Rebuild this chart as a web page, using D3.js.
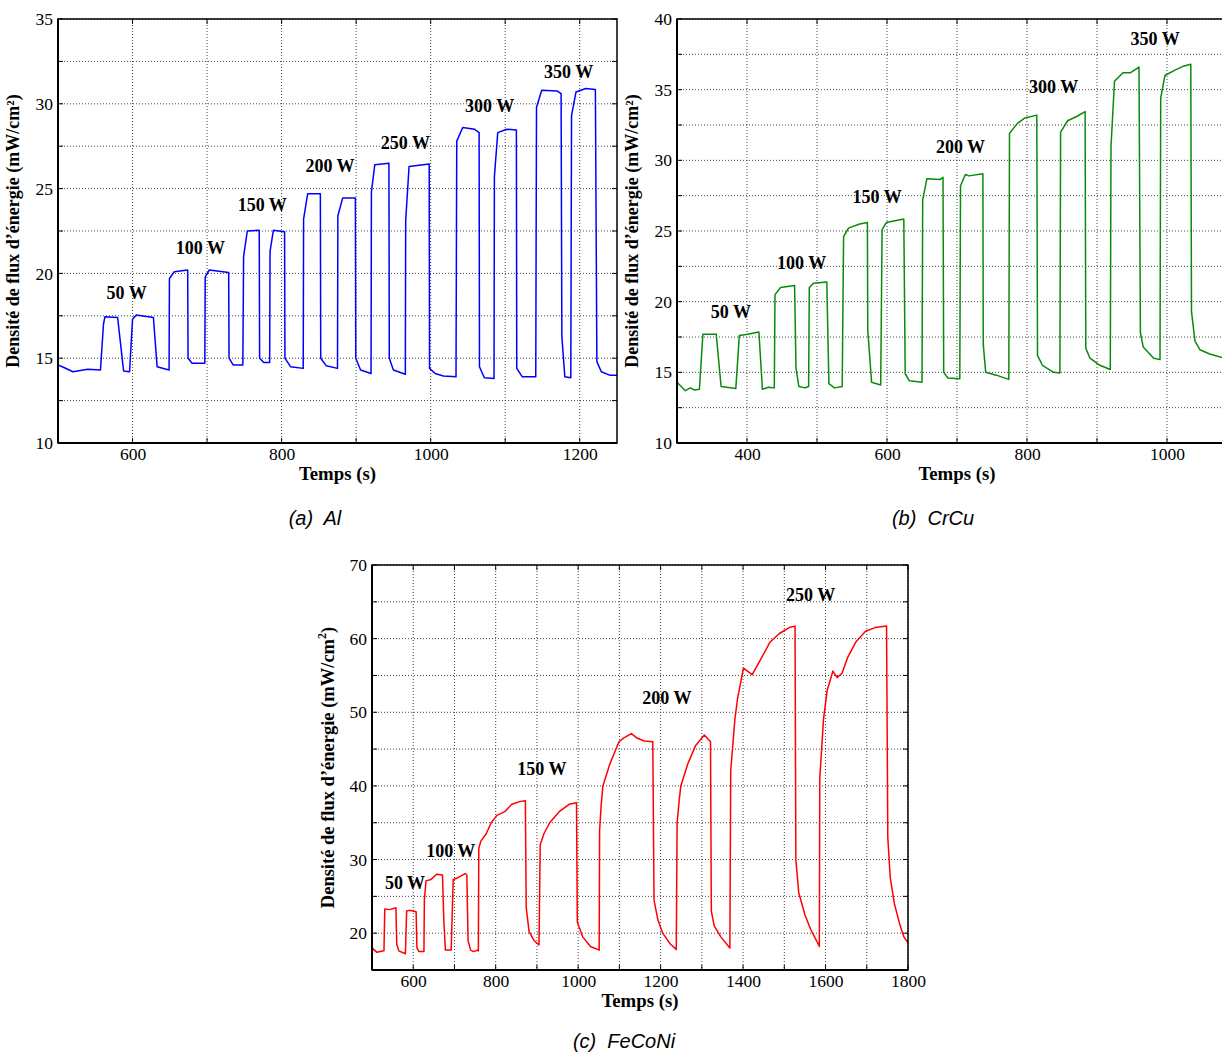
<!DOCTYPE html>
<html><head><meta charset="utf-8">
<script src="https://cdn.jsdelivr.net/npm/d3@7"></script>
<style>body{margin:0;background:#fff}svg{display:block}</style>
</head><body>
<script>
// ---------- DATA ----------
const timeAl = [500,508,520,540,557,561,563,580,588,596,600,605,628,633,649,649.5,656,674,674.5,680,697,697.5,703,729,729.5,735,748,749,754,770,770.5,776,784,784.5,789,804,804.5,812,829,829.5,835,852,852.5,860,875,875.5,882,899,899.5,906,920,920.5,925,944,944.5,950,966,966.5,971,998,998.5,1006,1017,1034,1035,1043,1059,1065,1065.5,1072,1085,1085.5,1090,1102,1115,1115.5,1123,1141,1142,1149,1170,1175,1176,1180,1188,1189,1195,1208,1221,1223,1229,1240,1250];
const fluxAl = [14.6,14.45,14.2,14.35,14.3,17.0,17.45,17.4,14.25,14.2,17.3,17.55,17.4,14.5,14.3,19.7,20.1,20.2,15.0,14.7,14.7,19.8,20.2,20.05,15.0,14.6,14.6,21.0,22.5,22.55,15.0,14.75,14.75,21.3,22.55,22.45,15.0,14.5,14.4,23.2,24.7,24.7,15.0,14.55,14.4,23.4,24.45,24.45,15.0,14.3,14.1,24.8,26.4,26.5,15.0,14.3,14.05,23.1,26.3,26.45,14.4,14.1,13.95,13.9,27.8,28.6,28.5,28.3,14.5,13.85,13.8,25.7,28.3,28.5,28.45,14.4,13.9,13.9,29.8,30.8,30.75,30.6,16.3,13.9,13.85,29.3,30.7,30.9,30.85,14.8,14.2,14.0,14.0];

const timeCrCu = [300,312,319,325,332,337,356,363,384,389,401,417,422,431,439,440,448,468,470,474,483,488,489,495,514,517,525,536,538,545,561,572,572.5,578,591,593,599,624,626,632,650,651,657,676,680,681,687,704,705,712,717,737,737.5,741,756,774,775,786,797,814,815,822,838,847,848,858,871,883,884,890,904,919,920,925,937,948,960,962,966,981,990,991,997,1012,1023,1034,1035,1040,1047,1061,1082,1100];
const fluxCrCu = [14.3,13.7,13.9,13.75,13.8,17.7,17.7,14.0,13.85,17.6,17.7,17.85,13.8,13.95,13.9,20.5,21.0,21.15,15.3,14.0,13.9,14.0,21.0,21.3,21.4,14.2,13.9,14.0,24.6,25.2,25.5,25.6,18.0,14.3,14.1,25.1,25.6,25.85,14.9,14.4,14.3,27.2,28.7,28.65,28.8,15.0,14.6,14.55,28.2,29.0,28.9,29.05,17.0,15.0,14.8,14.5,31.9,32.6,33.0,33.2,16.2,15.5,15.0,14.95,32.0,32.8,33.1,33.45,16.7,16.0,15.5,15.2,31.0,35.6,36.2,36.2,36.6,17.8,16.8,16.0,15.9,34.4,36.0,36.4,36.65,36.8,19.3,17.2,16.6,16.3,16.0,15.9];

const timeFeCoNi = [500,512,520,529,531,543,558,560,565,581,584,591,607,609,614,626,627,631,643,657,671,674,678,692,697,707,726,730,733,739,747,756,758,759,764,777,789,803,822,839,860,872,874,881,893,905,908,917,931,954,978,996,998,1011,1030,1051,1052,1056,1060,1077,1099,1110,1129,1143,1160,1181,1184,1193,1205,1224,1238,1240,1245,1249,1266,1285,1306,1321,1323,1330,1346,1368,1370,1380,1387,1401,1422,1441,1465,1488,1512,1526,1528,1535,1550,1564,1578,1585,1586,1595,1604,1618,1628,1640,1654,1673,1697,1720,1748,1751,1757,1767,1781,1790,1800];
const fluxFeCoNi = [18.0,17.4,17.5,17.6,23.3,23.2,23.45,18.5,17.6,17.2,23.0,23.1,22.9,18.0,17.5,17.5,24.5,27.1,27.3,28.0,27.9,22.0,17.7,17.7,27.3,27.5,28.1,27.9,19.0,17.7,17.5,17.7,17.6,31.5,32.5,33.5,35.0,36.0,36.5,37.5,37.9,38.0,23.5,20.2,19.0,18.4,32.0,33.5,35.0,36.5,37.5,37.7,21.5,19.5,18.2,17.7,34.0,37.5,40.0,43.0,46.0,46.5,47.1,46.5,46.1,46.0,24.5,21.9,20.0,18.5,17.8,35.0,38.0,40.0,43.0,45.5,46.9,46.0,23.0,21.0,19.5,18.0,42.0,49.0,52.0,56.0,55.1,57.0,59.5,60.7,61.5,61.7,30.0,25.5,22.5,20.5,19.0,18.2,41.0,49.0,53.0,55.6,54.7,55.3,57.5,59.5,61.0,61.5,61.7,33.0,27.5,24.0,21.0,19.5,18.7];

const labelsAl = ["50 W","100 W","150 W","200 W","250 W","300 W","350 W"];
const labelTimeAl = [592,691,774,865,966,1079,1185];
const labelFluxAl = [18.84,21.5,24.03,26.33,27.69,29.87,31.87];

const labelsCrCu = ["50 W","100 W","150 W","200 W","300 W","350 W"];
const labelTimeCrCu = [377,478,586,705,838,983];
const labelFluxCrCu = [19.26,22.73,27.4,30.94,35.19,38.58];

const labelsFeCoNi = ["50 W","100 W","150 W","200 W","250 W"];
const labelTimeFeCoNi = [580,691,912,1215,1564];
const labelFluxFeCoNi = [26.8,31.1,42.3,51.9,65.9];

const xTicksAl = [600,800,1000,1200];
const yTicksAl = [10,15,20,25,30,35];
const xTicksCrCu = [400,600,800,1000];
const yTicksCrCu = [10,15,20,25,30,35,40];
const xTicksFeCoNi = [600,800,1000,1200,1400,1600,1800];
const yTicksFeCoNi = [20,30,40,50,60,70];

// ---------- DRAW ----------
const W = 1222, H = 1053;
const svg = d3.select("body").append("svg").attr("width", W).attr("height", H);
const serif = "Liberation Serif, Times New Roman, serif";
const sans = "Liberation Sans, Arial, sans-serif";

function panel(o) {
  const x = d3.scaleLinear().domain(o.xd).range([o.l, o.r]);
  const y = d3.scaleLinear().domain(o.yd).range([o.b, o.t]);
  const g = svg.append("g");
  const clipId = "clip" + o.id;
  g.append("clipPath").attr("id", clipId).append("rect")
    .attr("x", o.l).attr("y", o.t).attr("width", o.r - o.l).attr("height", o.b - o.t);

  // grid
  const xg = d3.range(o.xd[0] + o.xs, o.xd[1] + 0.001, o.xs);
  const yg = d3.range(o.yd[0] + o.ys, o.yd[1] + 0.001, o.ys);
  g.append("g").selectAll("line").data(xg).join("line")
    .attr("x1", d => x(d)).attr("x2", d => x(d)).attr("y1", o.t).attr("y2", o.b)
    .attr("stroke", "#444").attr("stroke-width", 1).attr("stroke-dasharray", "1,2");
  g.append("g").selectAll("line").data(yg).join("line")
    .attr("x1", o.l).attr("x2", o.r).attr("y1", d => y(d)).attr("y2", d => y(d))
    .attr("stroke", "#444").attr("stroke-width", 1).attr("stroke-dasharray", "1,2");

  // small inward ticks on all sides
  const tk = g.append("g").attr("stroke", "#000").attr("stroke-width", 1);
  xg.forEach(d => {
    tk.append("line").attr("x1", x(d)).attr("x2", x(d)).attr("y1", o.b).attr("y2", o.b - 5);
    tk.append("line").attr("x1", x(d)).attr("x2", x(d)).attr("y1", o.t).attr("y2", o.t + 5);
  });
  yg.forEach(d => {
    tk.append("line").attr("y1", y(d)).attr("y2", y(d)).attr("x1", o.l).attr("x2", o.l + 5);
    tk.append("line").attr("y1", y(d)).attr("y2", y(d)).attr("x1", o.r).attr("x2", o.r - 5);
  });

  // line
  const pts = o.time.map((t, i) => [t, o.flux[i]]);
  g.append("path").datum(pts)
    .attr("clip-path", `url(#${clipId})`)
    .attr("fill", "none").attr("stroke", o.color).attr("stroke-width", 1.5)
    .attr("stroke-linejoin", "round")
    .attr("d", d3.line().x(d => x(d[0])).y(d => y(d[1])));

  // frame
  g.append("rect").attr("x", o.l).attr("y", o.t).attr("width", o.r - o.l).attr("height", o.b - o.t)
    .attr("fill", "none").attr("stroke", "#000").attr("stroke-width", 1.5);
  g.append("line").attr("x1", o.l).attr("x2", o.r).attr("y1", o.b).attr("y2", o.b).attr("stroke", "#000").attr("stroke-width", 2);
  g.append("line").attr("x1", o.l).attr("x2", o.l).attr("y1", o.t).attr("y2", o.b).attr("stroke", "#000").attr("stroke-width", 2);

  // tick labels via d3 axes
  const xa = g.append("g").attr("transform", `translate(0,${o.b})`)
    .call(d3.axisBottom(x).tickValues(o.xt).tickSize(0).tickPadding(5).tickFormat(d3.format("d")));
  xa.attr("font-family", serif).attr("font-size", 17.5);
  xa.select(".domain").remove();
  xa.selectAll("text").style("font-family", serif).style("font-size", "17.5px").attr("fill", "#000");
  const ya = g.append("g").attr("transform", `translate(${o.l},0)`)
    .call(d3.axisLeft(y).tickValues(o.yt).tickSize(0).tickPadding(5).tickFormat(d3.format("d")));
  ya.attr("font-family", serif).attr("font-size", 17.5);
  ya.select(".domain").remove();
  ya.selectAll("text").style("font-family", serif).style("font-size", "17.5px").attr("fill", "#000");

  // axis titles
  g.append("text").attr("x", (o.l + o.r0) / 2).attr("y", o.b + 37)
    .attr("text-anchor", "middle").style("font-family", serif).attr("font-weight", "bold")
    .style("font-size", "18.8px").text("Temps (s)");
  const yt = g.append("text").attr("transform", `translate(${o.l - o.ytOff},${(o.t + o.b) / 2}) rotate(-90)`)
    .attr("text-anchor", "middle").style("font-family", serif).attr("font-weight", "bold")
    .style("font-size", o.ytSize + "px");
  if (o.supStyle) {
    yt.append("tspan").text("Densité de flux d’énergie (mW/cm");
    yt.append("tspan").attr("dy", -8).style("font-size", "12px").text("2");
    yt.append("tspan").attr("dy", 8).text(")");
  } else {
    yt.text("Densité de flux d’énergie (mW/cm²)");
  }

  // power labels
  g.append("g").selectAll("text").data(o.labels).join("text")
    .attr("x", (d, i) => x(o.lt[i])).attr("y", (d, i) => y(o.lf[i]))
    .attr("text-anchor", "middle").attr("dominant-baseline", "central")
    .style("font-family", serif).attr("font-weight", "bold").style("font-size", "18px")
    .text(d => d);

  // caption
  svg.append("text").attr("x", o.capX).attr("y", o.capY)
    .attr("text-anchor", "middle").style("font-family", sans).attr("font-style", "italic")
    .style("font-size", "20px").style("white-space", "pre").text(o.caption);
}

panel({id: "a", l: 58, r: 617, r0: 617, t: 19, b: 443, xd: [500, 1250], yd: [10, 35], xs: 100, ys: 2.5,
  xt: xTicksAl, yt: yTicksAl, time: timeAl, flux: fluxAl, color: "#0000ff",
  labels: labelsAl, lt: labelTimeAl, lf: labelFluxAl, ytOff: 39, ytSize: 18,
  caption: "(a)  Al", capX: 315, capY: 525});

panel({id: "b", l: 677, r: 1237, r0: 1237, t: 19, b: 443, xd: [300, 1100], yd: [10, 40], xs: 100, ys: 2.5,
  xt: xTicksCrCu, yt: yTicksCrCu, time: timeCrCu, flux: fluxCrCu, color: "#0a8a0a",
  labels: labelsCrCu, lt: labelTimeCrCu, lf: labelFluxCrCu, ytOff: 39, ytSize: 18,
  caption: "(b)  CrCu", capX: 933, capY: 525});

panel({id: "c", l: 372, r: 908, r0: 908, t: 565, b: 970, xd: [500, 1800], yd: [15, 70], xs: 100, ys: 5,
  xt: xTicksFeCoNi, yt: yTicksFeCoNi, time: timeFeCoNi, flux: fluxFeCoNi, color: "#ff0000",
  labels: labelsFeCoNi, lt: labelTimeFeCoNi, lf: labelFluxFeCoNi, ytOff: 38, ytSize: 18.5, supStyle: true,
  caption: "(c)  FeCoNi", capX: 624, capY: 1048});
</script>
</body></html>
